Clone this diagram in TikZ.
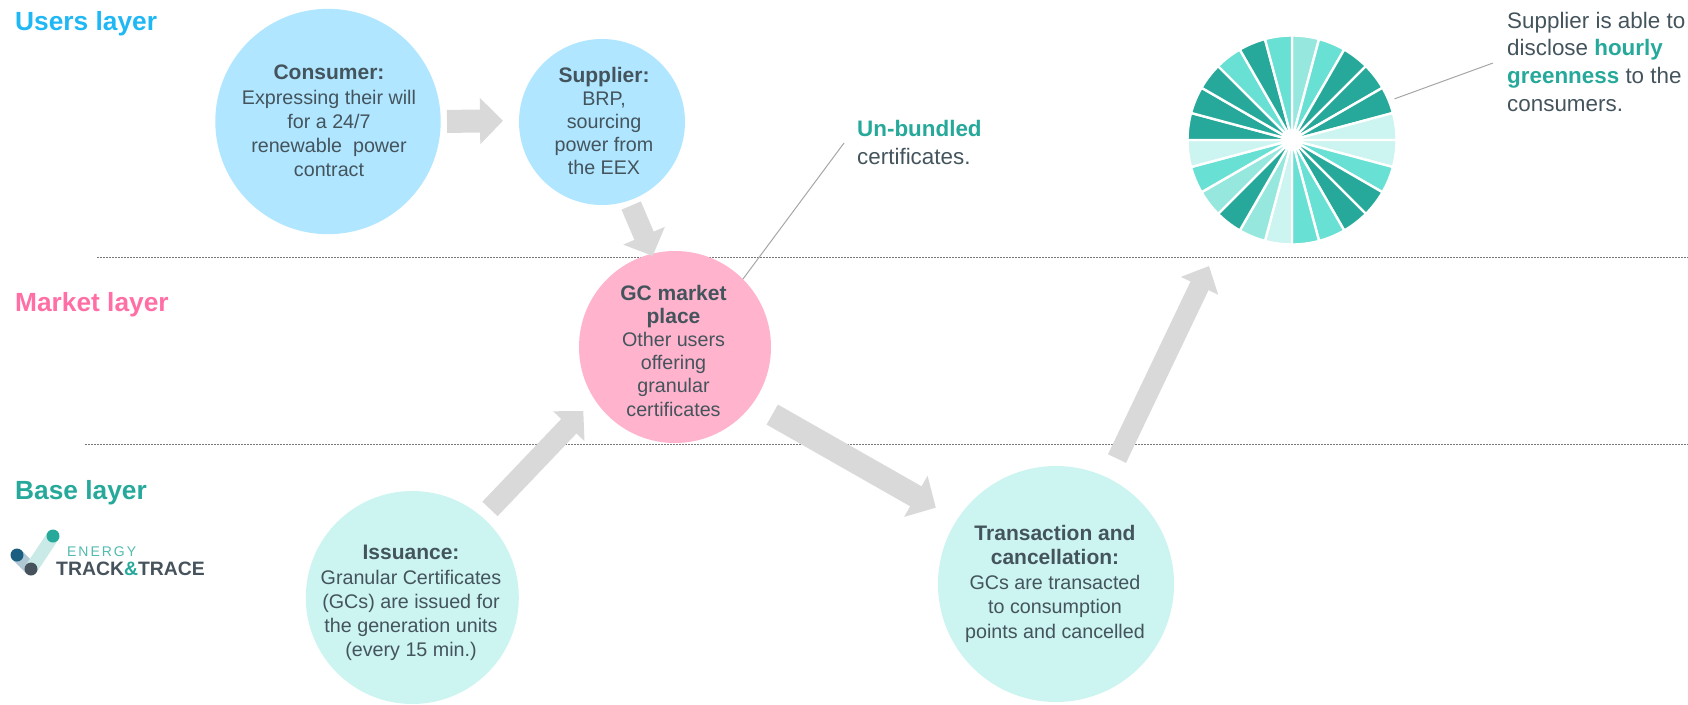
\documentclass[tikz,border=0pt]{standalone}
\usepackage{fontspec}
\setmainfont{Liberation Sans}
\usetikzlibrary{arrows.meta,calc}
\definecolor{inkc}{HTML}{44545C}
\definecolor{tealc}{HTML}{26A99A}
\definecolor{midc}{HTML}{68E0D3}
\definecolor{softc}{HTML}{96E8DE}
\definecolor{palec}{HTML}{CCF4F0}
\definecolor{bluec}{HTML}{B0E6FF}
\definecolor{pinkc}{HTML}{FFB3CC}
\definecolor{arrowc}{HTML}{D9D9D9}
\definecolor{usersc}{HTML}{1FB8F5}
\definecolor{marketc}{HTML}{FF6FA5}
\definecolor{leaderc}{HTML}{A6A6A6}
\definecolor{ruleC}{HTML}{777777}
\definecolor{logoblue}{HTML}{1A5E80}
\definecolor{logogrey}{HTML}{46535C}
\tikzset{
  disc/.style={circle,draw=none,inner sep=0pt,outer sep=0pt},
  bodytext/.style={text=inkc,align=center,inner sep=0pt,anchor=base,font=\fontsize{19.7}{#1}\selectfont},
  notetext/.style={text=inkc,align=left,inner sep=0pt,anchor=base west,font=\fontsize{22.4}{27.6}\selectfont},
  layertext/.style={inner sep=0pt,anchor=base west,font=\fontsize{26.3}{30}\selectfont\bfseries},
  blockarrow/.style={draw=arrowc,line width=#1},
  rulerline/.style={ruleC,line width=0.9pt,dash pattern=on 2pt off 1pt},
  leader/.style={leaderc,line width=1pt},
}
\newcommand{\hl}[1]{\textcolor{tealc}{\textbf{#1}}}
\newcommand{\ttl}[1]{{\fontsize{21}{24}\selectfont\bfseries #1}}
\begin{document}
\begin{tikzpicture}[x=1pt,y=-1pt]
\useasboundingbox (0,0) rectangle (1688,704);
% layer rules
\coordinate (ruleAa) at (97,257.5);
\coordinate (ruleAb) at (1688,257.5);
\coordinate (ruleBa) at (85,444);
\coordinate (ruleBb) at (1688,444);
\draw[rulerline] (ruleAa) -- (ruleAb);
\draw[rulerline] (ruleBa) -- (ruleBb);
% discs
\node[disc,fill=bluec,minimum size=225.4pt] (consumer) at (328,121.5) {};
\node[disc,fill=bluec,minimum size=166pt] (supplier) at (602,122) {};
\node[disc,fill=pinkc,minimum size=192pt] (market) at (675,347) {};
\node[disc,fill=palec,minimum size=213pt] (issuance) at (412.3,597.5) {};
\node[disc,fill=palec,minimum size=236pt] (transaction) at (1056,584) {};
\node[disc,minimum size=207pt] (pie) at (1292,140) {};
% pie
\foreach \c [count=\i from 0] in {softc,midc,tealc,tealc,tealc,palec,palec,midc,tealc,tealc,midc,midc,palec,softc,tealc,softc,midc,palec,tealc,tealc,tealc,midc,tealc,midc}{
  \pgfmathsetmacro{\sa}{90-15*\i}
  \pgfmathsetmacro{\ea}{75-15*\i}
  \filldraw[fill=\c,draw=white,line width=2.4pt,line join=miter]
    (pie.center) -- ++(\sa:104.5pt) arc[start angle=\sa,end angle=\ea,radius=104.5pt] -- cycle;
}
\fill[white] (pie.center) circle[radius=11pt];
% block arrows
\draw[blockarrow=23pt,-{Triangle[width=45pt,length=23pt]},shorten <=6.3pt,shorten >=16pt] (consumer.0) -- (supplier.179.3);
\draw[blockarrow=21pt,-{Triangle[width=44pt,length=22pt]},shorten <=5.5pt,shorten >=-2.3pt] (supplier.-71.6) -- (market.104.4);
\draw[blockarrow=21pt,-{Triangle[width=42pt,length=21pt]},shorten <=11.3pt,shorten >=16.2pt] (issuance.49) -- (market.213.8);
\draw[blockarrow=23pt,-{Triangle[width=46pt,length=23pt]},shorten <=22.5pt,shorten >=24.4pt] (market.-36.2) -- (transaction.147.8);
\draw[blockarrow=20pt,-{Triangle[width=40pt,length=22pt]},shorten <=21.5pt,shorten >=48pt] (transaction.64.6) -- (pie.233.1);
% leaders
\coordinate (leadA) at (844,143);
\coordinate (leadB) at (1493,63);
\draw[leader] (market.45) -- (leadA);
\draw[leader,shorten <=7pt] (pie.22.6) -- (leadB);
% disc texts (positioned by the baseline of their last line)
\node[bodytext=24.2] (consumertext) at (329,176.7) {\ttl{Consumer:}\\Expressing their will\\for a 24/7\\renewable\ \ power\\contract};
\node[bodytext=22.8] (suppliertext) at (604,174) {\ttl{Supplier:}\\BRP,\\sourcing\\power from\\the EEX};
\node[bodytext=23.2] (markettext) at (673.5,416) {\ttl{GC market}\\\ttl{place}\\Other users\\offering\\granular\\certificates};
\node[bodytext=24.2] (issuancetext) at (411,656.7) {\ttl{Issuance:}\\Granular Certificates\\(GCs) are issued for\\the generation units\\(every 15 min.)};
\node[bodytext=24.5] (transactiontext) at (1055,638) {\ttl{Transaction and}\\\ttl{cancellation:}\\GCs are transacted\\to consumption\\points and cancelled};
% notes
\node[notetext] (unbundled) at (857,164) {\hl{Un-bundled}\\certificates.};
\node[notetext] (greenness) at (1507,111) {Supplier is able to\\disclose \hl{hourly}\\\hl{greenness} to the\\consumers.};
% layer labels
\node[layertext,text=usersc] (users) at (15,30) {Users layer};
\node[layertext,text=marketc] (marketlayer) at (15,311) {Market layer};
\node[layertext,text=tealc] (baselayer) at (15,499) {Base layer};
% logo
\coordinate (logoA) at (17,555);
\coordinate (logoB) at (31,569);
\coordinate (logoC) at (53,536);
\draw[line width=13pt,color=logoblue!35] (logoA) -- (logoB);
\draw[line width=13pt,color=tealc!25] (logoB) -- (logoC);
\fill[logoblue] (logoA) circle[radius=6.5pt];
\fill[logogrey] (logoB) circle[radius=6.5pt];
\fill[tealc] (logoC) circle[radius=6.5pt];
\node[inner sep=0pt,anchor=base west,text=tealc!80,font=\fontsize{14}{14}\selectfont\addfontfeature{LetterSpace=14}] (energy) at (67,556) {ENERGY};
\node[inner sep=0pt,anchor=base west,text=logogrey,font=\fontsize{19.4}{20}\selectfont\bfseries] (tracktrace) at (56,575) {TRACK\textcolor{tealc}{\&}TRACE};
\end{tikzpicture}
\end{document}
